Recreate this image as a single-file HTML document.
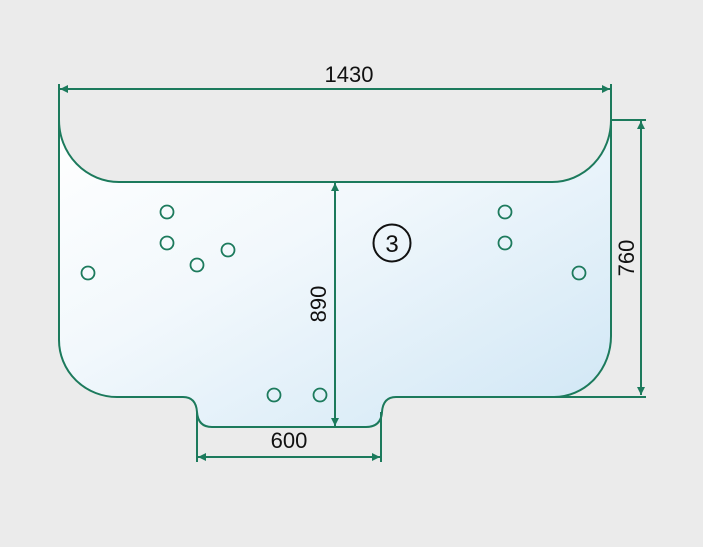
<!DOCTYPE html>
<html><head><meta charset="utf-8"><style>
html,body{margin:0;padding:0;background:#ebebeb;}
svg{display:block;}
text{font-family:"Liberation Sans",sans-serif;fill:#111;}
</style></head><body>
<svg width="703" height="547" viewBox="0 0 703 547">
<defs>
<linearGradient id="g" x1="0" y1="0" x2="1" y2="1">
<stop offset="0" stop-color="#ffffff"/><stop offset="0.4" stop-color="#f2f8fc"/><stop offset="1" stop-color="#cfe6f5"/>
</linearGradient>
<marker id="ah" viewBox="0 0 10 10" refX="10" refY="5" markerWidth="16" markerHeight="8" markerUnits="userSpaceOnUse" orient="auto-start-reverse">
<path d="M0,0 L10,5 L0,10 z" fill="#1c7a5c"/></marker>
</defs>
<g stroke="#1c7a5c" stroke-width="2" fill="none">
<path fill="url(#g)" d="M59,120 A60,62 0 0 0 119,182 L552,182 A59,62 0 0 0 611,120 L611,336 A57,61 0 0 1 554,397 L396,397 Q383,397 382,412 Q381,427 366,427 L212,427 Q198,427 197,412 Q196,397 183,397 L117,397 A58,57 0 0 1 59,340 Z"/>
<line x1="60" y1="89" x2="610" y2="89" marker-start="url(#ah)" marker-end="url(#ah)"/>
<line x1="59" y1="84" x2="59" y2="120"/>
<line x1="611" y1="84" x2="611" y2="120"/>
<line x1="641" y1="121" x2="641" y2="395" marker-start="url(#ah)" marker-end="url(#ah)"/>
<line x1="611" y1="120" x2="646" y2="120"/>
<line x1="554" y1="397" x2="646" y2="397"/>
<line x1="335" y1="183" x2="335" y2="426" marker-start="url(#ah)" marker-end="url(#ah)"/>
<line x1="198" y1="457" x2="380" y2="457" marker-start="url(#ah)" marker-end="url(#ah)"/>
<line x1="197" y1="412" x2="197" y2="462"/>
<line x1="381" y1="412" x2="381" y2="462"/>
<g stroke-width="1.8">
<circle cx="167" cy="212" r="6.5"/><circle cx="167" cy="243" r="6.5"/><circle cx="197" cy="265" r="6.5"/>
<circle cx="228" cy="250" r="6.5"/><circle cx="88" cy="273" r="6.5"/><circle cx="505" cy="212" r="6.5"/>
<circle cx="505" cy="243" r="6.5"/><circle cx="579" cy="273" r="6.5"/><circle cx="274" cy="395" r="6.5"/>
<circle cx="320" cy="395" r="6.5"/>
</g>
</g>
<circle cx="392" cy="243" r="18.5" fill="none" stroke="#111" stroke-width="2"/>
<text x="392" y="252" font-size="24" text-anchor="middle">3</text>
<text x="349" y="82" font-size="22" text-anchor="middle">1430</text>
<text x="289" y="448" font-size="22" text-anchor="middle">600</text>
<text transform="translate(326,304) rotate(-90)" font-size="22" text-anchor="middle">890</text>
<text transform="translate(634,258) rotate(-90)" font-size="22" text-anchor="middle">760</text>
</svg>
</body></html>
